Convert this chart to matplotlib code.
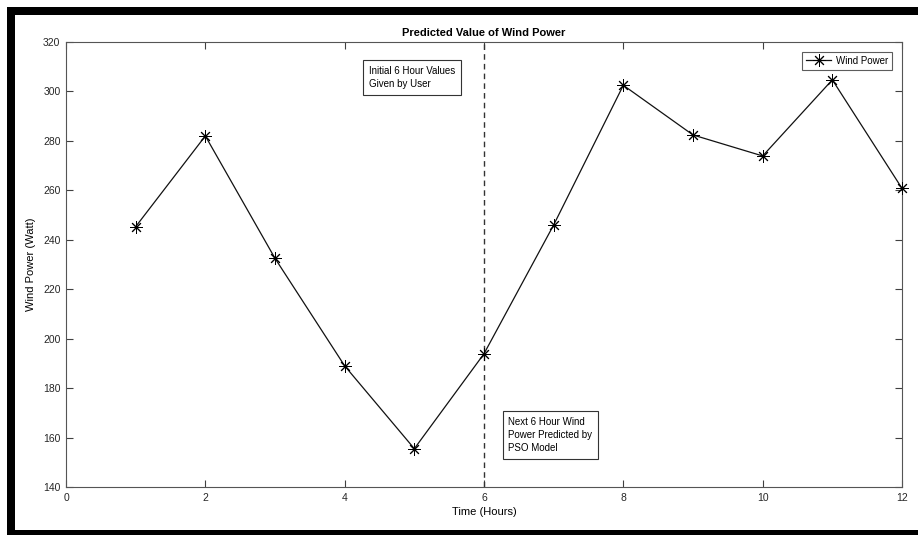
import matplotlib
matplotlib.use("Agg")
import matplotlib.pyplot as plt
from matplotlib.patches import Rectangle

plt.rcParams['font.family'] = ['Liberation Sans', 'DejaVu Sans']

hours = [1, 2, 3, 4, 5, 6, 7, 8, 9, 10, 11, 12]
wind_power = [245.3, 282.0, 232.5, 189.0, 155.5, 193.9, 246.0, 302.5, 282.4, 273.9, 304.7, 260.8]
x_ticks = [0, 2, 4, 6, 8, 10, 12]
y_ticks = [140, 160, 180, 200, 220, 240, 260, 280, 300, 320]
split_hour = 6

fig = plt.figure(figsize=(9.18, 5.35), dpi=100)
fig.patch.set_facecolor('white')

# black frame of the screenshot
W, H = 918, 535
fig.patches.append(Rectangle((7 / W, 1 - 15 / H), 1 - 7 / W, 8 / H, transform=fig.transFigure,
                             facecolor='black', edgecolor='none'))
fig.patches.append(Rectangle((7 / W, 0), 8 / W, 1 - 7 / H, transform=fig.transFigure,
                             facecolor='black', edgecolor='none'))
fig.patches.append(Rectangle((7 / W, 0), 1 - 7 / W, 5 / H, transform=fig.transFigure,
                             facecolor='black', edgecolor='none'))

ax = fig.add_axes([66 / W, 1 - 487 / H, (902 - 66) / W, (487 - 42) / H])

asterisk = (8, 2, 0)
ax.plot(hours, wind_power, color='#111111', linewidth=0.9, marker=asterisk,
        markersize=9, markeredgewidth=0.7, markeredgecolor='black', label='Wind Power',
        clip_on=False, zorder=3)
ax.axvline(split_hour, color='#333333', linestyle=(0, (4, 3)), linewidth=1.0)

ax.set_xlim(0, 12)
ax.set_ylim(140, 320)
ax.set_xticks(x_ticks)
ax.set_yticks(y_ticks)
ax.tick_params(direction='in', length=5, width=0.8, top=True, right=True,
               labelsize=7.5, colors='#404040', labelcolor='#262626', pad=4)
for s in ax.spines.values():
    s.set_color('#555555')
    s.set_linewidth(0.8)

ax.set_title('Predicted Value of Wind Power', fontsize=8, fontweight='bold', pad=4)
ax.set_xlabel('Time (Hours)', fontsize=8, labelpad=3)
ax.set_ylabel('Wind Power (Watt)', fontsize=8, labelpad=5)

box = dict(boxstyle='square,pad=0.6', facecolor='white', edgecolor='#333333', linewidth=0.8)
ax.text(4.35, 310.2, 'Initial 6 Hour Values\nGiven by User', fontsize=7, va='top', ha='left',
        bbox=box, linespacing=1.4)
ax.text(6.35, 168.5, 'Next 6 Hour Wind\nPower Predicted by\nPSO Model', fontsize=7, va='top', ha='left',
        bbox=box, linespacing=1.4)

leg = ax.legend(loc='upper right', fontsize=7, frameon=True, fancybox=False,
                edgecolor='#333333', handlelength=2.6, borderpad=0.4,
                handletextpad=0.5, borderaxespad=1.0)
leg.get_frame().set_linewidth(0.8)

fig.savefig('out.png', dpi=100)
